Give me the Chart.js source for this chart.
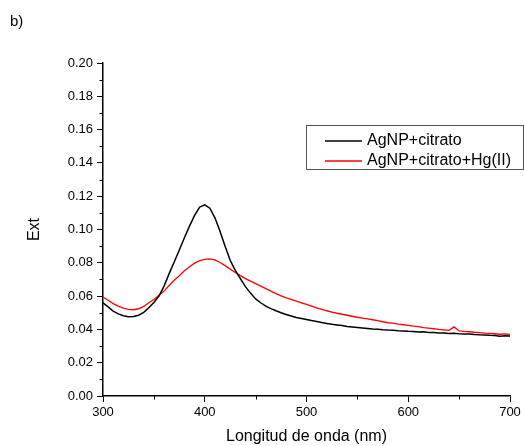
<!DOCTYPE html>
<html>
<head>
<meta charset="utf-8">
<style>
  html, body { margin: 0; padding: 0; background: #fff; }
  #wrap { width: 524px; height: 446px; }
</style>
<script src="https://cdn.jsdelivr.net/npm/chart.js@4/dist/chart.umd.min.js"></script>
</head>
<body>
<div id="wrap"><canvas id="chart" width="524" height="446"></canvas></div>
<script>
// wavelength grid (nm), every 5 nm
const wavelengths = [];
for (let w = 300; w <= 700; w += 5) wavelengths.push(w);

const agnpCitrato = [
  0.0560, 0.0535, 0.0510, 0.0493, 0.0482, 0.0476, 0.0477, 0.0485, 0.0502, 0.0530,
  0.0562, 0.0600, 0.0660, 0.0735, 0.0805, 0.0877, 0.0950, 0.1020, 0.1085, 0.1135,
  0.1148, 0.1128, 0.1070, 0.0990, 0.0900, 0.0815, 0.0755, 0.0705, 0.0657, 0.0618,
  0.0583, 0.0560, 0.0540, 0.0525, 0.0512, 0.0500, 0.0490, 0.0481, 0.0472, 0.0466,
  0.0460, 0.0453, 0.0447, 0.0441, 0.0436, 0.0431, 0.0427, 0.0423, 0.0418, 0.0415,
  0.0412, 0.0409, 0.0406, 0.0403, 0.0401, 0.0398, 0.0396, 0.0395, 0.0392, 0.0391,
  0.0389, 0.0388, 0.0385, 0.0386, 0.0382, 0.0381, 0.0379, 0.0378, 0.0376, 0.0377,
  0.0374, 0.0372, 0.0373, 0.0370, 0.0368, 0.0367, 0.0365, 0.0364, 0.0359, 0.0362,
  0.0360
];

const agnpCitratoHg = [
  0.0595, 0.0575, 0.0555, 0.0540, 0.0528, 0.0520, 0.0518, 0.0524, 0.0538, 0.0560,
  0.0580, 0.0605, 0.0630, 0.0664, 0.0695, 0.0722, 0.0752, 0.0776, 0.0798, 0.0813,
  0.0821, 0.0823, 0.0817, 0.0802, 0.0783, 0.0762, 0.0742, 0.0723, 0.0705, 0.0690,
  0.0675, 0.0660, 0.0645, 0.0630, 0.0615, 0.0601, 0.0590, 0.0580, 0.0570, 0.0560,
  0.0550, 0.0540, 0.0530, 0.0521, 0.0512, 0.0504, 0.0497, 0.0491, 0.0485, 0.0479,
  0.0473, 0.0468, 0.0463, 0.0458, 0.0453, 0.0446, 0.0440, 0.0438, 0.0432, 0.0428,
  0.0424, 0.0420, 0.0417, 0.0411, 0.0408, 0.0404, 0.0400, 0.0397, 0.0394, 0.0415,
  0.0391, 0.0388, 0.0386, 0.0383, 0.0381, 0.0378, 0.0376, 0.0374, 0.0371, 0.0373,
  0.0370
];

const seriesLabels = ["AgNP+citrato", "AgNP+citrato+Hg(II)"];
const seriesColors = ["#000000", "#ff0000"];
const xMinorTicks = [350, 450, 550, 650];
const yMinorTicks = [0.01, 0.03, 0.05, 0.07, 0.09, 0.11, 0.13, 0.15, 0.17, 0.19];

const FONT = "Liberation Sans, Arial, sans-serif";

// minor ticks, boxed legend and the "b)" panel label
const extras = {
  id: "extras",
  afterDraw(chart) {
    const ctx = chart.ctx;
    const xs = chart.scales.x, ys = chart.scales.y;
    const area = chart.chartArea;
    ctx.save();
    ctx.strokeStyle = "#000";
    ctx.lineWidth = 1;
    xMinorTicks.forEach(v => {
      const px = Math.round(xs.getPixelForValue(v)) + 0.5;
      ctx.beginPath();
      ctx.moveTo(px, area.bottom);
      ctx.lineTo(px, area.bottom + 3.5);
      ctx.stroke();
    });
    yMinorTicks.forEach(v => {
      const py = Math.round(ys.getPixelForValue(v)) + 0.5;
      ctx.beginPath();
      ctx.moveTo(area.left - 3.5, py);
      ctx.lineTo(area.left, py);
      ctx.stroke();
    });

    // legend box
    ctx.strokeStyle = "#555";
    ctx.lineWidth = 1;
    ctx.strokeRect(306.5, 125.5, 217, 44);
    ctx.font = "16px " + FONT;
    ctx.textBaseline = "middle";
    ctx.fillStyle = "#000";
    chart.data.datasets.forEach((ds, i) => {
      const y = 141 + i * 20;
      ctx.strokeStyle = ds.borderColor;
      ctx.lineWidth = 1.5;
      ctx.beginPath();
      ctx.moveTo(325, y);
      ctx.lineTo(362, y);
      ctx.stroke();
      ctx.fillText(ds.label, 367, y);
    });

    ctx.font = "15px " + FONT;
    ctx.textBaseline = "alphabetic";
    ctx.fillText("b)", 10, 26);
    ctx.restore();
  }
};

new Chart(document.getElementById("chart"), {
  type: "line",
  data: {
    datasets: [
      {
        label: seriesLabels[0],
        data: wavelengths.map((w, i) => ({ x: w, y: agnpCitrato[i] })),
        borderColor: seriesColors[0],
        borderWidth: 1.5,
        pointRadius: 0,
        tension: 0
      },
      {
        label: seriesLabels[1],
        data: wavelengths.map((w, i) => ({ x: w, y: agnpCitratoHg[i] })),
        borderColor: seriesColors[1],
        borderWidth: 1.3,
        pointRadius: 0,
        tension: 0
      }
    ]
  },
  options: {
    responsive: false,
    animation: false,
    layout: { padding: { top: 63, right: 14, left: 0, bottom: 0 } },
    plugins: { legend: { display: false }, tooltip: { enabled: false } },
    scales: {
      x: {
        type: "linear",
        min: 300,
        max: 700,
        afterFit: s => { s.height = 50; },
        ticks: { stepSize: 100, color: "#000", font: { family: FONT, size: 13 }, padding: 3 },
        grid: { drawOnChartArea: false, tickLength: 6, color: "#000" },
        border: { color: "#000", width: 1.5 },
        title: {
          display: true,
          text: "Longitud de onda (nm)",
          color: "#000",
          font: { family: FONT, size: 16 },
          padding: { top: 0, bottom: 0 }
        }
      },
      y: {
        min: 0,
        max: 0.2,
        afterFit: s => { s.width = 103; },
        ticks: {
          stepSize: 0.02,
          color: "#000",
          font: { family: FONT, size: 13 },
          padding: 4,
          callback: v => v.toFixed(2)
        },
        grid: { drawOnChartArea: false, tickLength: 6, color: "#000" },
        border: { color: "#000", width: 1.5 },
        title: {
          display: true,
          text: "Ext",
          color: "#000",
          font: { family: FONT, size: 16 },
          padding: { top: 25, bottom: 0 }
        }
      }
    }
  },
  plugins: [extras]
});
</script>
</body>
</html>
